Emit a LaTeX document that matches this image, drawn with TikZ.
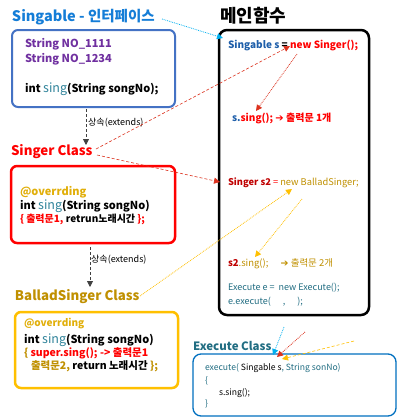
\documentclass[tikz,border=0pt]{standalone}
\usepackage{fontspec}
\setmainfont{Noto Sans CJK KR}
\newfontfamily\symfont{DejaVu Sans}
\newcommand{\rarr}{{\symfont ➔}}
\usetikzlibrary{arrows.meta}
\definecolor{tblue}{RGB}{20,125,215}
\definecolor{sgborder}{RGB}{68,114,196}
\definecolor{purp}{RGB}{112,48,160}
\definecolor{teal}{RGB}{49,132,155}
\definecolor{myred}{RGB}{255,0,0}
\definecolor{dred}{RGB}{192,0,0}
\definecolor{goldt}{RGB}{192,144,0}
\definecolor{goldb}{RGB}{255,192,0}
\definecolor{goldo}{RGB}{225,175,10}
\definecolor{exteal}{RGB}{33,109,130}
\definecolor{exborder}{RGB}{0,112,192}
\definecolor{sblue}{RGB}{31,95,170}
\definecolor{cyan1}{RGB}{0,176,240}
\definecolor{redarr}{RGB}{220,50,30}
\definecolor{yelarr}{RGB}{255,192,0}
\begin{document}
\begin{tikzpicture}[x=1pt,y=-1pt,
  txt/.style={inner sep=0pt, outer sep=0pt, anchor=west, font=\fontsize{11}{12}\selectfont\bfseries},
  mtxt/.style={inner sep=0pt, outer sep=0pt, anchor=west, font=\fontsize{10}{11}\selectfont\bfseries},
  etxt/.style={inner sep=0pt, outer sep=0pt, anchor=west, font=\fontsize{9}{11}\selectfont},
  xtxt/.style={inner sep=0pt, outer sep=0pt, anchor=west, font=\fontsize{8.6}{11}\selectfont},
  ttl/.style={inner sep=0pt, outer sep=0pt, anchor=west, font=\fontsize{13.3}{16}\selectfont\bfseries},
  boxst/.style={inner sep=0pt, outer sep=0pt, anchor=north west, rounded corners=6pt},
  tip/.style={-{Triangle[length=6pt,width=6pt]}},
  inh/.style={densely dashed, line width=0.8pt, black!75, -{Triangle[length=6pt,width=6pt]}},
  bluearr/.style={tip, cyan1, densely dotted, line width=0.8pt},
  redarr1/.style={tip, redarr, densely dashed, line width=0.6pt},
  redarr2/.style={tip, redarr, densely dotted, line width=0.8pt},
  yelarrs/.style={tip, yelarr, densely dashed, line width=0.6pt},
  yelarr2/.style={tip, yelarr, densely dotted, line width=0.8pt}
]
\useasboundingbox (0,0) rectangle (400,418);
\fill[white] (0,0) rectangle (400,418);

% ---------- left column ----------
\node[ttl, text=tblue, font=\fontsize{14.5}{16}\selectfont\bfseries] (sgtitle) at (12,17) {Singable - 인터페이스};
\node[boxst, draw=sgborder, line width=2pt, minimum width=163pt, minimum height=77pt] (sgbox) at (12,30) {};
\node[txt, text=purp] (sg1) at (25,44) {String NO\_1111};
\node[txt, text=purp] (sg2) at (25,59) {String NO\_1234};
\node[txt] (sg3) at (25,89) {int \textcolor{teal}{\mdseries\fontsize{12.5}{12}\selectfont sing}(String songNo);};

\coordinate (inh1s) at (86,109);
\coordinate (inh1e) at (86,145);
\draw[inh] (inh1s) -- (inh1e);
\node[inner sep=0pt, anchor=west, font=\fontsize{9}{10}\selectfont] (ext1) at (88,123) {상속(extends)};

\node[ttl, text=myred] (sintitle) at (11,152) {Singer Class};
\node[boxst, draw=myred, line width=2.5pt, minimum width=164pt, minimum height=77pt] (sinbox) at (11,166) {};
\node[txt, text=goldo] (sin1) at (20,192) {@overrding};
\node[txt] (sin2) at (20,206) {int \textcolor{teal}{\mdseries\fontsize{12.5}{12}\selectfont sing}(String songNo)};
\node[txt, text=myred, font=\fontsize{10}{11}\selectfont\bfseries] (sin3) at (20,219) {\{ 출력문1, \textcolor{black}{retrun노래시간} \};};

\coordinate (inh2s) at (90,247);
\coordinate (inh2e) at (90,287);
\draw[inh] (inh2s) -- (inh2e);
\node[inner sep=0pt, anchor=west, font=\fontsize{9}{10}\selectfont] (ext2) at (91,260) {상속(extends)};

\node[ttl, text=goldt] (baltitle) at (15,297) {BalladSinger Class};
\node[boxst, draw=goldb, line width=2.5pt, minimum width=163pt, minimum height=76pt] (balbox) at (15,312) {};
\node[txt, text=goldo, font=\fontsize{10}{11}\selectfont\bfseries] (bal1) at (24,324) {@overrding};
\node[txt] (bal2) at (24,340) {int \textcolor{teal}{\mdseries\fontsize{12.5}{12}\selectfont sing}(String songNo)};
\node[txt, text=myred, font=\fontsize{10.5}{11}\selectfont\bfseries] (bal3) at (24,353) {\textcolor{goldt}{\{} super.sing(); -> 출력문1};
\node[txt, text=goldt, font=\fontsize{10.5}{11}\selectfont\bfseries] (bal4) at (31,366) {출력문2, \textcolor{black}{return 노래시간} \};};

% ---------- main function ----------
\node[inner sep=0pt, anchor=west, font=\fontsize{18}{20}\selectfont\bfseries] (maintitle) at (220,16) {메인함수};
\node[boxst, draw=black, line width=2.5pt, minimum width=150pt, minimum height=285pt, rounded corners=8pt] (mainbox) at (219,30) {};
\node[mtxt, text=sblue] (m1) at (228,45) {Singable s \textcolor{black}{=} \textcolor{myred}{new Singer();}};
\node[mtxt, text=sblue] (m2) at (232,118) {s.\textcolor{myred}{sing(); \rarr{} 출력문 1개}};
\node[mtxt, text=dred, font=\fontsize{9.3}{11}\selectfont] (m3) at (228,183) {\textbf{Singer s2} \textcolor{myred}{=} \textcolor{goldt}{new BalladSinger;}};
\node[mtxt, text=goldt, font=\fontsize{9.5}{11}\selectfont] (m4) at (228,264) {\textcolor{dred}{\textbf{s2}}.sing();\hspace{10pt} \textbf{\rarr} 출력문 2개};
\node[etxt, text=exteal] (m5) at (228,288) {Execute e = \ new Execute();};
\node[etxt, text=exteal] (m6) at (228,302) {e.execute(\hspace{12pt},\hspace{12pt});};

% ---------- execute class ----------
\node[inner sep=0pt, anchor=west, text=exteal, font=\fontsize{11.5}{14}\selectfont\bfseries] (extitle) at (193,346) {Execute Class};
\node[boxst, draw=exborder, line width=1.3pt, minimum width=203pt, minimum height=62pt, rounded corners=8pt] (exbox) at (193,354) {};
\node[xtxt, text=exteal] (ex1) at (205,368) {execute( \textcolor{black}{Singable s}, String sonNo)};
\node[xtxt, text=exteal] (ex2) at (205,381) {\{};
\node[xtxt, text=black] (ex3) at (219,393) {s.sing();};
\node[xtxt, text=exteal] (ex4) at (205,404) {\}};

% ---------- connectors ----------
\coordinate (b1s) at (162,19);
\coordinate (b1e) at (223,38);
\draw[bluearr] (b1s) -- (b1e);

\coordinate (r1s) at (96,149);
\coordinate (r1e) at (290,46);
\draw[redarr1] (r1s) -- (r1e);
\coordinate (r2s) at (297,54);
\coordinate (r2e) at (256,111);
\draw[redarr2] (r2s) -- (r2e);
\coordinate (r3s) at (97,155);
\coordinate (r3e) at (220,182);
\draw[redarr1] (r3s) -- (r3e);

\coordinate (y1s) at (140,296);
\coordinate (y1e) at (292,189);
\draw[yelarr2] (y1s) -- (y1e);
\coordinate (y2s) at (302,199);
\coordinate (y2e) at (255,257);
\draw[yelarr2] (y2s) -- (y2e);

\coordinate (e1s) at (284,327);
\coordinate (e1e) at (273,355);
\draw[bluearr] (e1s) -- (e1e);
\coordinate (e2s) at (305,332);
\coordinate (e2e) at (277,357);
\draw[redarr2] (e2s) -- (e2e);
\coordinate (e3s) at (354,341);
\coordinate (e3e) at (282,359);
\draw[yelarrs] (e3s) -- (e3e);
\end{tikzpicture}
\end{document}
